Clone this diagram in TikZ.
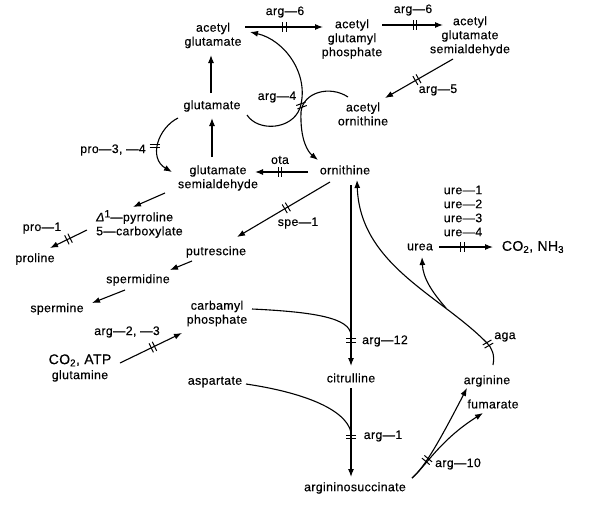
\documentclass[tikz,border=0pt]{standalone}
\usepackage{fontspec}
\setmainfont{Liberation Sans}[LetterSpace=3,FakeBold=0.4]
\usetikzlibrary{arrows.meta}
\tikzset{
  lbl/.style={font=\fontsize{12.3}{14}\selectfont, inner sep=1pt, align=center},
  big/.style={font=\fontsize{14}{15}\selectfont, inner sep=1pt, align=center},
  ln/.style={line width=1.1pt},
  arr/.style={line width=1.1pt, -{Latex[length=8pt,width=6pt]}},
  bars/.pic={\draw[line width=1pt, -] (-1.8,-5)--(-1.8,5) (1.8,-5)--(1.8,5);}
}
\begin{document}
\begin{tikzpicture}[x=1pt,y=-1pt]
\useasboundingbox (0,0) rectangle (597,514);
% metabolites
\node[lbl] (ag)  at (213,35.5) {acetyl\\glutamate};
\node[lbl] (agp) at (352,39) {acetyl\\glutamyl\\phosphate};
\node[lbl] (ags) at (470,36) {acetyl\\glutamate\\semialdehyde};
\node[lbl] (ao)  at (363,114) {acetyl\\ornithine};
\node[lbl] (glu) at (212,106) {glutamate};
\node[lbl] (gsa) at (218,178) {glutamate\\semialdehyde};
\node[lbl] (orn) at (345,170) {ornithine};
\node[lbl, align=left, anchor=west] (p5c) at (95,224) {{\itshape Δ}\raisebox{0.6ex}{\fontsize{10.5}{10}\selectfont 1}—pyrroline\\5—carboxylate};
\node[lbl] (pro) at (35,259) {proline};
\node[lbl] (put) at (216,252) {putrescine};
\node[lbl] (spd) at (138,280) {spermidine};
\node[lbl] (spm) at (57,309) {spermine};
\node[lbl] (cp)  at (217,313.5) {carbamyl\\phosphate};
\node[big] (co2a) at (80,368) {CO\textsubscript{2}, ATP\\{\fontsize{12.3}{14}\selectfont glutamine}};
\node[lbl] (cit) at (351,378) {citrulline};
\node[lbl] (asp) at (215,382) {aspartate};
\node[lbl] (asa) at (355,488) {argininosuccinate};
\node[lbl] (argn) at (487,381) {arginine};
\node[lbl] (fum) at (493,404) {fumarate};
\node[lbl] (urea) at (420,247) {urea};
\node[big] (co2n) at (533,247) {CO\textsubscript{2}, NH\textsubscript{3}};
% enzyme labels
\node[lbl] (l6a) at (285,12) {arg—6};
\node[lbl] (l6b) at (413,10) {arg—6};
\node[lbl] (l5)  at (438,90) {arg—5};
\node[lbl] (l4)  at (277,97) {arg—4};
\node[lbl] (l34) at (113,150) {pro—3, —4};
\node[lbl] (lota) at (280,160) {ota};
\node[lbl] (lspe) at (298,223) {spe—1};
\node[lbl] (lp1) at (42,228) {pro—1};
\node[lbl] (l23) at (127,332) {arg—2, —3};
\node[lbl] (l12) at (385,341) {arg—12};
\node[lbl] (l1)  at (383,436) {arg—1};
\node[lbl] (l10) at (458,464) {arg—10};
\node[lbl] (laga) at (505,337) {aga};
\node[lbl] (lure) at (463,211) {ure—1\\ure—2\\ure—3\\ure—4};
% junction coordinates
\coordinate (j12) at (351,335);
\coordinate (j1)  at (351,432);
\coordinate (jU)  at (446,308);
% connectors
\draw[arr] ([shift={(32,-8.5)}]ag.center) -- pic[pos=0.51,sloped]{bars} ([shift={(-29,-12)}]agp.center);
\draw[arr] ([shift={(30,-14)}]agp.center) -- pic[pos=0.54,sloped]{bars} ([shift={(-27,-11)}]ags.center);
\draw[arr] ([shift={(-17,23)}]ags.center) -- pic[pos=0.53,sloped]{bars} ([shift={(22,-16)}]ao.center);
\draw[arr] ([shift={(-1,-13)}]glu.center) -- ([shift={(-2,19.5)}]ag.center);
\draw[arr] ([shift={(-6,-21)}]gsa.center) -- ([shift={(0,12)}]glu.center);
\draw[arr] ([shift={(-37,2)}]orn.center) -- pic[pos=0.53,sloped]{bars} ([shift={(37,-6)}]gsa.center);
\draw[arr] ([shift={(-34,12)}]glu.center) .. controls (158,128) and (148,158) .. ([shift={(-46,-6)}]gsa.center);
\pic[rotate=90] at (154.5,146) {bars};
\draw[arr] ([shift={(35,9)}]glu.center) .. controls (258,132) and (292,130) .. (300,108)
   .. controls (310,75) and (285,40) .. ([shift={(37,-3.5)}]ag.center);
\draw[arr] ([shift={(-15,-17)}]ao.center) .. controls (330,85) and (303,92) .. (301,112)
   .. controls (300,140) and (308,152) .. ([shift={(-27,-10)}]orn.center);
\pic[rotate=110] at (301.5,105.5) {bars};
\draw[arr] ([shift={(-15,12)}]orn.center) -- pic[pos=0.47,sloped]{bars} ([shift={(21,-15)}]put.center);
\draw[arr] ([shift={(-53,15)}]gsa.center) -- ([shift={(38,-17)}]p5c.west);
\draw[arr] ([shift={(-8,6)}]p5c.west) -- pic[pos=0.5,sloped]{bars} ([shift={(15,-11)}]pro.center);
\draw[arr] ([shift={(-24,9)}]put.center) -- ([shift={(32,-10)}]spd.center);
\draw[arr] ([shift={(-13,10)}]spd.center) -- ([shift={(35,-6)}]spm.center);
\draw[arr] ([shift={(40,-5)}]co2a.center) -- pic[pos=0.53,sloped]{bars} ([shift={(-35,19.5)}]cp.center);
\draw[arr] ([shift={(6,15)}]orn.center) -- pic[pos=0.86,sloped]{bars} ([shift={(0,-12)}]cit.center);
\draw[ln] ([shift={(35,-4.5)}]cp.center) .. controls (315,312) and (350,318) .. (j12);
\draw[arr] ([shift={(0,10)}]cit.center) -- pic[pos=0.55,sloped]{bars} ([shift={(-4,-11)}]asa.center);
\draw[ln] ([shift={(31,2)}]asp.center) .. controls (300,392) and (345,408) .. (j1);
\draw[arr] ([shift={(57,-10)}]asa.center) .. controls (425,467) and (440,440) .. ([shift={(-20,7)}]argn.center);
\draw[arr] ([shift={(57,-10)}]asa.center) .. controls (425,467) and (440,440) .. ([shift={(-10,9)}]fum.center);
\pic[rotate=50] at (427,460) {bars};
\draw[arr] ([shift={(6,-16)}]argn.center) .. controls (495,355) and (492,348) .. (487,343)
   .. controls (440,295) and (360,265) .. ([shift={(12,10)}]orn.center);
\pic[rotate=120] at (488,344) {bars};
\draw[arr] (jU) .. controls (432,292) and (423,278) .. ([shift={(2,10)}]urea.center);
\draw[arr] ([shift={(19,0)}]urea.center) -- pic[pos=0.44,sloped]{bars} ([shift={(-40,0)}]co2n.center);
\end{tikzpicture}
\end{document}
